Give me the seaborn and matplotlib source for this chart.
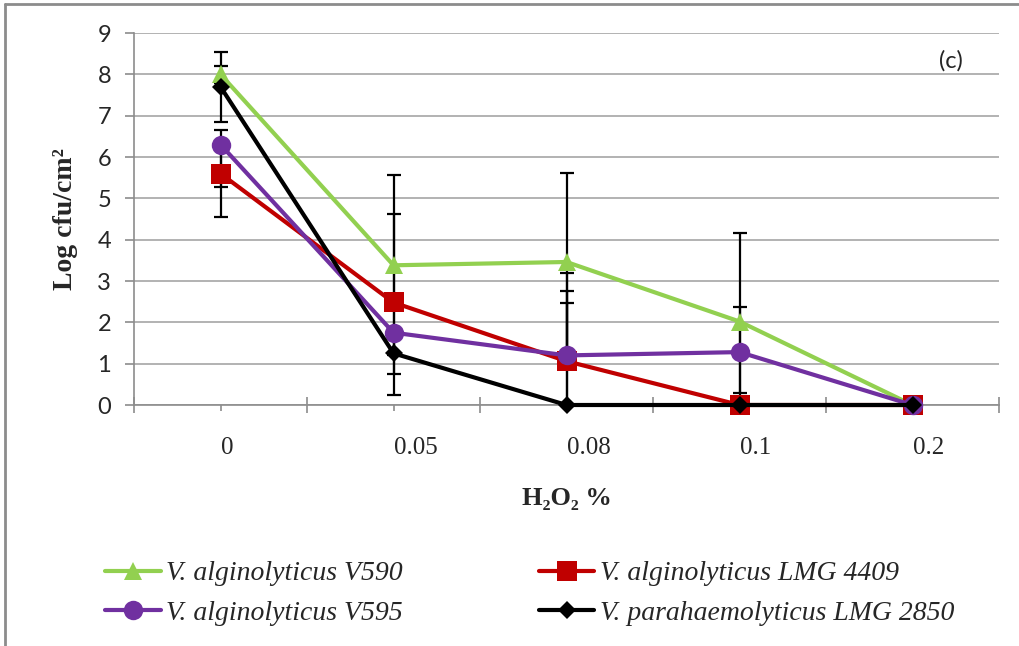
import matplotlib
matplotlib.use("Agg")
import matplotlib.pyplot as plt
from matplotlib.lines import Line2D
import numpy as np
import pandas as pd
import seaborn as sns

# ---- data ----
h2o2_labels = ["0", "0.05", "0.08", "0.1", "0.2"]
strains = ["V. alginolyticus V590", "V. alginolyticus LMG 4409",
           "V. alginolyticus V595", "V. parahaemolyticus LMG 2850"]
v590 = [8.0, 3.38, 3.46, 2.02, 0.0]
lmg4409 = [5.6, 2.48, 1.06, 0.0, 0.0]
v595 = [6.3, 1.75, 1.2, 1.28, 0.0]
lmg2850 = [7.7, 1.25, 0.0, 0.0, 0.0]

v590_err_lo = [0.2, 2.18, 2.16, 2.14, 0.0]
v590_err_hi = [0.2, 2.18, 2.16, 2.14, 0.0]
lmg4409_err_lo = [1.05, 2.25, 1.06, 0.0, 0.0]
lmg4409_err_hi = [1.05, 2.15, 1.71, 0.0, 0.0]
v595_err_lo = [1.02, 0.0, 0.0, 1.0, 0.0]
v595_err_hi = [0.0, 0.0, 1.27, 1.1, 0.0]
lmg2850_err_lo = [0.85, 0.5, 0.0, 0.0, 0.0]
lmg2850_err_hi = [0.85, 0.5, 3.19, 0.0, 0.0]

values = [v590, lmg4409, v595, lmg2850]
err_lo = [v590_err_lo, lmg4409_err_lo, v595_err_lo, lmg2850_err_lo]
err_hi = [v590_err_hi, lmg4409_err_hi, v595_err_hi, lmg2850_err_hi]

colors = {strains[0]: "#92D050", strains[1]: "#C00000",
          strains[2]: "#7030A0", strains[3]: "#000000"}
markers = {strains[0]: "^", strains[1]: "s", strains[2]: "o", strains[3]: "D"}
msizes = {strains[0]: 13, strains[1]: 14, strains[2]: 14, strains[3]: 9}

# category positions on a 0..10 axis (points sit at odd positions)
pos = [2 * i + 1 for i in range(len(h2o2_labels))]

rows = []
for s, vals in zip(strains, values):
    for p, v in zip(pos, vals):
        rows.append({"pos": p, "value": v, "strain": s})
df = pd.DataFrame(rows)

sns.set_style("white")
plt.rcParams["font.family"] = ["Liberation Serif", "DejaVu Serif"]

fig = plt.figure(figsize=(10.19, 6.46), dpi=100)
W, H = 1019, 646
ax = fig.add_axes([134 / W, (H - 405) / H, 865 / W, 372 / H])

# error bars (behind the series)
for s, vals, lo, hi in zip(strains, values, err_lo, err_hi):
    ax.errorbar(pos, vals, yerr=[lo, hi], fmt="none", ecolor="black",
                elinewidth=1.6, capsize=4.7, capthick=1.6, zorder=1.8)

sns.lineplot(data=df, x="pos", y="value", hue="strain", style="strain",
             hue_order=strains, style_order=strains, palette=colors,
             markers=markers, dashes=False, linewidth=3.0, markersize=13,
             sort=False, errorbar=None, legend=False, ax=ax)

data_lines = [l for l in ax.lines if len(l.get_xdata()) == len(pos)][-4:]
for i, (l, s) in enumerate(zip(data_lines, strains)):
    l.set_label(s)
    l.set_clip_on(False)
    l.set_markersize(msizes[s])
    l.set_markeredgecolor(colors[s])
    l.set_markeredgewidth(0)
    l.set_zorder(3 + i)

# axes styling
ax.set_xlim(0, 10)
ax.set_ylim(0, 9)
ax.set_yticks(range(0, 10))
ax.set_yticklabels([str(i) for i in range(0, 10)], fontfamily="Lato", fontsize=17)
ax.set_xticks(range(0, 11, 2))
ax.set_xticklabels([])
ax.set_xticks(pos, h2o2_labels, minor=True)
for t in ax.get_xticklabels(minor=True):
    t.set_ha("left")
    t.set_fontsize(18)
    t.set_fontfamily(["Liberation Serif", "DejaVu Serif"])

ax.grid(axis="y", color="#A6A6A6", linewidth=1.2)
ax.grid(axis="x", visible=False)
ax.set_axisbelow(True)
for sp in ["top", "right"]:
    ax.spines[sp].set_visible(False)
for sp in ["left", "bottom"]:
    ax.spines[sp].set_color("#8C8C8C")
    ax.spines[sp].set_linewidth(1.2)

ax.tick_params(axis="y", which="major", direction="out", length=6.5, width=1.2,
               color="#8C8C8C", pad=10, left=True)
ax.tick_params(axis="x", which="major", direction="inout", length=12, width=1.2,
               color="#8C8C8C", bottom=True)
ax.tick_params(axis="x", which="minor", direction="out", length=4, width=1.2,
               color="#8C8C8C", pad=19, bottom=True)

ax.set_xlabel("H₂O₂ %", fontsize=19, fontweight="bold", labelpad=20,
              family=["Liberation Serif", "DejaVu Serif"])
ax.set_ylabel("Log cfu/cm²", fontsize=20, fontweight="bold", labelpad=14,
              family=["Liberation Serif", "DejaVu Serif"])

ax.text(0.945, 0.925, "(c)", transform=ax.transAxes, ha="center", va="center",
        fontsize=17, fontfamily="Lato")

# outer frame (top and left edges)
fig.add_artist(Line2D([5 / W, 1.0], [1 - 4 / H, 1 - 4 / H], color="#8C8C8C",
                      linewidth=2, transform=fig.transFigure))
fig.add_artist(Line2D([5 / W, 5 / W], [0, 1 - 4 / H], color="#8C8C8C",
                      linewidth=2, transform=fig.transFigure))

# legend: column-wise fill
order = [0, 2, 1, 3]
handles = [data_lines[i] for i in order]
labels = [strains[i] for i in order]
fig.legend(handles, labels, loc="upper left", bbox_to_anchor=(80 / W, 1 - 536 / H),
           ncol=2, frameon=False, handlelength=2.0, handletextpad=0.2,
           columnspacing=4.9, labelspacing=0.5,
           prop={"family": ["Liberation Serif", "DejaVu Serif"], "style": "italic", "size": 20})

fig.savefig("out.png", dpi=100)
